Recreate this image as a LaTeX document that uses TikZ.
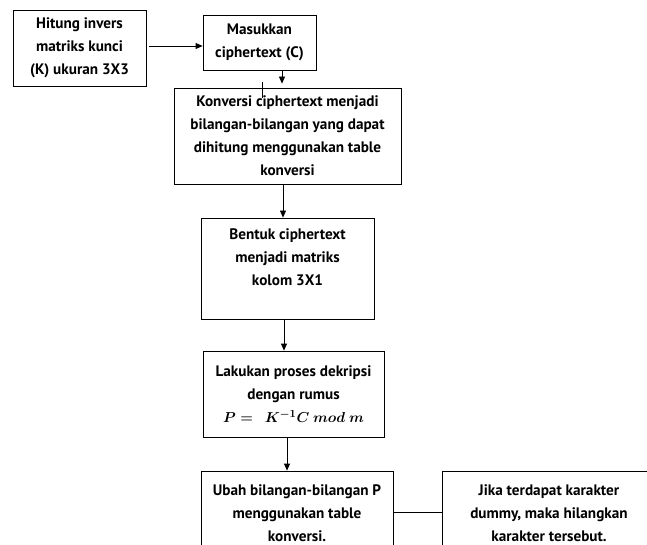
\documentclass[tikz,border=0pt]{standalone}
\usepackage{amsmath}
\usepackage{fontspec}
\setsansfont{PT Sans}
\usetikzlibrary{shapes,arrows,arrows.meta}

\newcommand{\rumus}{\mbox{\boldmath$P =\;\, K^{-1}C~mod~m$}}

\begin{document}
\begin{tikzpicture}[x=1pt, y=-1pt,
      block-sharp/.style = {
        rectangle, draw=black, line width=0.8pt, align=center, inner sep=0pt,
        font=\fontsize{15.2}{23}\selectfont\sffamily\bfseries },
      line/.style = { draw, line width=0.8pt, -{Triangle[length=7pt,width=6pt]} },
      link/.style = { draw, line width=0.8pt }]
    \useasboundingbox (0,0) rectangle (647,545);
    \clip (0,0) rectangle (647,545);
    \node [block-sharp, minimum width=133pt, minimum height=76pt] (invers) at (79.5, 48)
    {Hitung invers\\ matriks kunci\\ (K) ukuran 3X3};
    \node [block-sharp, minimum width=113pt, minimum height=55pt] (masukkan) at (259.5, 42.5)
    {Masukkan\\ ciphertext (C)};
    \node [block-sharp, minimum width=227pt, minimum height=96pt] (konversi) at (287.5, 136)
    {Konversi ciphertext menjadi\\ bilangan-bilangan yang dapat\\ dihitung menggunakan table\\ konversi};
    \node [block-sharp, minimum width=173pt, minimum height=101pt] (bentuk) at (287.5, 268.5)
    {Bentuk ciphertext\\ menjadi matriks\\ kolom 3X1\\ \rule{0pt}{10pt}};
    \node [block-sharp, minimum width=181pt, minimum height=86pt] (dekripsi) at (293.5, 394)
    {Lakukan proses dekripsi\\ dengan rumus\\ \rumus};
    \node [block-sharp, minimum width=192pt, minimum height=84pt] (ubah) at (297, 513)
    {Ubah bilangan-bilangan P\\ menggunakan table\\ konversi.};
    \node [block-sharp, minimum width=214pt, minimum height=84pt] (dummy) at (549, 513)
    {Jika terdapat karakter\\ dummy, maka hilangkan\\ karakter tersebut.};
    \coordinate (stub-a) at (262, 82);
    \coordinate (stub-b) at (262, 98);
    \coordinate (pfeil-a) at (149, 46);
    \coordinate (garis-a) at (393, 512);
    % connect all nodes defined above
    \draw[line] (pfeil-a) -- (pfeil-a -| masukkan.west);
    \draw[line, shorten >=4pt] ([xshift=22.5pt]masukkan.south) -- ([xshift=22.5pt]masukkan.south |- konversi.north);
    \draw[link] (stub-a) -- (stub-b);
    \draw[line] ([xshift=-4.5pt]konversi.south) -- ([xshift=-4.5pt]konversi.south |- bentuk.north);
    \draw[line] ([xshift=-3.5pt]bentuk.south) -- ([xshift=-3.5pt]bentuk.south |- dekripsi.north);
    \draw[line] ([xshift=-6.5pt]dekripsi.south) -- ([xshift=-6.5pt]dekripsi.south |- ubah.north);
    \draw[link] (garis-a) -- (garis-a -| dummy.west);
  \end{tikzpicture}
\end{document}
